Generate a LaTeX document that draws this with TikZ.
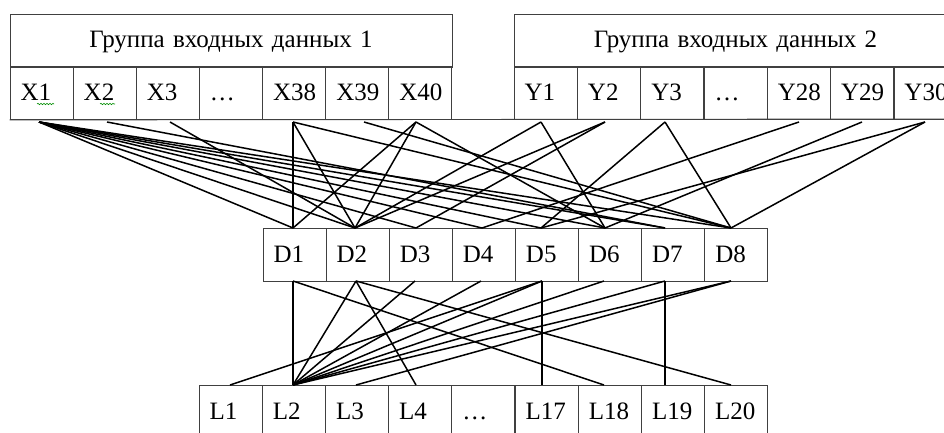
\documentclass[tikz,border=0pt]{standalone}
\usepackage{fontspec}
\setmainfont{Liberation Serif}
\usetikzlibrary{decorations.pathmorphing}
\begin{document}
\begin{tikzpicture}[x=1pt,y=-1pt,
  cell/.style={draw=black!75, line width=0.9pt, rectangle, minimum height=53pt,
    inner xsep=10.5pt, inner ysep=0pt, text height=17pt, text depth=2pt,
    text width=42pt, align=left, font=\fontsize{25}{30}\selectfont},
  head/.style={cell, text width=#1, align=center},
  link/.style={line width=1.5pt, black},
  rule/.style={draw=black!75, line width=0.9pt},
  squig/.style={draw=green!55!black, line width=0.6pt, decorate,
    decoration={snake, amplitude=0.7pt, segment length=3pt}}
]
\path[use as bounding box, clip] (0,0) rectangle (944,433);

% --- input group 1
\node[head=421pt] (g1) at (231,40.5) {Группа входных данных 1};
\foreach \lab [count=\i from 0] in {X1,X2,X3,…,X38,X39,X40}
  \node[cell] (xc\i) at ({10+63.14*(\i+0.5)},93) {\lab};
% --- input group 2
\node[head=422pt] (g2) at (735.5,40.5) {Группа входных данных 2};
\foreach \lab [count=\i from 0] in {Y1,Y2,Y3,…,Y28,Y29,Y30}
  \node[cell] (yc\i) at ({514+63.3*(\i+0.5)},93) {\lab};
\draw[rule] (xc0.south west) -- (944,119);
\draw[squig] (37,104) -- (54,104);
\draw[squig] (100,104) -- (115,104);

% --- D row
\foreach \lab [count=\i from 0] in {D1,D2,D3,D4,D5,D6,D7,D8}
  \node[cell] (dc\i) at ({263+63.1*(\i+0.5)},254.5) {\lab};
% --- L row
\foreach \lab [count=\i from 0] in {L1,L2,L3,L4,…,L17,L18,L19,L20}
  \node[cell] (lc\i) at ({199+63.2*(\i+0.5)},411.5) {\lab};

% --- connection points
\foreach \n/\x in {X1/39,X2/107,X3/170,X38/293,X39/364,X40/416,
                   Y1/541,Y2/605,Y3/665,Y28/799,Y29/862,Y30/925}
  \coordinate (p\n) at (\x,122);
\foreach \n/\x in {1/293,2/355,3/416,4/482,5/541,6/605,7/665,8/731}
  \coordinate (qD\n) at (\x,228);
\foreach \n/\x in {1/293,2/356,3/415,4/481,5/542,6/604,7/665,8/731}
  \coordinate (rD\n) at (\x,281);
\foreach \n/\x in {1/230,2/293,3/356,4/416,17/542,18/604,19/665,20/731}
  \coordinate (sL\n) at (\x,385);

% --- upper connectors
\foreach \a/\b in {X1/1,X1/2,X1/3,X1/4,X1/5,X1/6,X1/7,X1/8,
                   X2/7,X3/2,X38/1,X38/2,X38/8,X39/8,X40/1,X40/2,X40/6,
                   Y1/2,Y1/6,Y2/2,Y2/3,Y3/5,Y3/8,Y28/4,Y29/6,Y30/5,Y30/8}
  \draw[link] (p\a) -- (qD\b);
% --- lower connectors
\foreach \a/\b in {1/2,1/18,2/2,2/4,2/20,3/2,4/2,5/1,5/2,5/17,6/2,7/2,7/19,8/2,8/3}
  \draw[link] (rD\a) -- (sL\b);
\end{tikzpicture}
\end{document}
